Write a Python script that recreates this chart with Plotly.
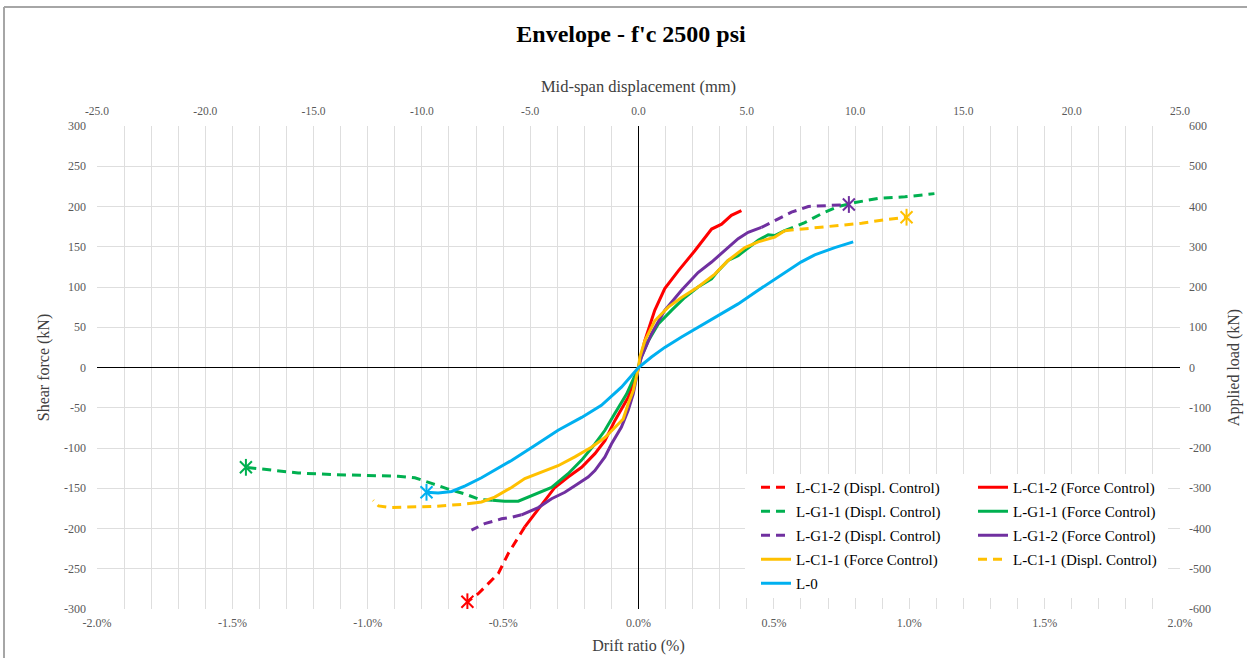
import plotly.graph_objects as go

# ---------------- data (drift ratio %, shear force kN) ----------------
c12_disp_x = [-0.42, -0.444, -0.481, -0.518, -0.555, -0.592, -0.632]
c12_disp_y = [-198, -211, -231, -256, -269, -281, -291]

c12_force_x = [-0.42, -0.383, -0.346, -0.309, -0.26, -0.21, -0.161, -0.124, -0.0875, -0.038, 0,
               0.023, 0.06, 0.097, 0.147, 0.208, 0.27, 0.307, 0.343, 0.38]
c12_force_y = [-198, -182, -165, -149, -136, -124, -107, -91, -66, -37, 0,
               33, 71, 98, 120, 145, 172, 178, 189, 195]

g11_disp_x = [-0.54, -0.586, -0.642, -0.703, -0.764, -0.826, -0.888, -1.011, -1.134, -1.257, -1.38, -1.45,
              None, 0.54, 0.614, 0.676, 0.738, 0.8, 0.885, 0.984, 1.093]
g11_disp_y = [-165, -164, -157, -151, -144, -137, -135, -134, -133, -131, -127, -124,
              None, 170, 180, 191, 200, 205, 210, 212, 216]

g11_force_x = [-0.54, -0.494, -0.444, -0.407, -0.358, -0.321, -0.26, -0.21, -0.161, -0.124, -0.0875, -0.044, 0,
               0.005, 0.036, 0.073, 0.122, 0.171, 0.22, 0.27, 0.294, 0.331, 0.368, 0.405, 0.442, 0.479, 0.503, 0.54]
g11_force_y = [-165, -166, -166, -161, -155, -149, -132, -115, -95, -78, -57, -33, 0,
               9, 33, 54, 71, 87, 100, 110, 120, 133, 139, 149, 158, 165, 164, 170]

g12_disp_x = [-0.432, -0.469, -0.506, -0.568, -0.617, None, 0.454, 0.491, 0.565, 0.627, 0.7, 0.777]
g12_disp_y = [-183, -186, -188, -194, -202, None, 174, 180, 193, 200, 201, 202.5]

g12_force_x = [-0.432, -0.37, -0.321, -0.272, -0.235, -0.186, -0.161, -0.124, -0.1, -0.063, -0.038, -0.0196, 0,
               0.011, 0.048, 0.097, 0.159, 0.22, 0.27, 0.331, 0.368, 0.405, 0.454]
g12_force_y = [-183, -174, -163, -155, -147, -136, -128, -111, -95, -74, -53, -33, 0,
               13, 42, 71, 96, 118, 131, 149, 160, 168, 174]

c11_force_x = [-0.6, -0.58, -0.531, -0.469, -0.42, -0.358, -0.297, -0.235, -0.174, -0.124, -0.0875, -0.0565, -0.038,
               -0.0196, 0, 0.005, 0.023, 0.06, 0.11, 0.159, 0.22, 0.282, 0.331, 0.393, 0.442, 0.503, 0.54]
c11_force_y = [-168, -167, -161, -149, -138, -130, -122, -111, -99, -87, -74, -64, -45,
               -29, 0, 13, 33, 58, 75, 87, 100, 116, 133, 149, 156, 162, 170]

c11_disp_x = [-0.6, -0.65, -0.75, -0.85, -0.92, -0.96, -0.98,
              None, 0.54, 0.577, 0.651, 0.738, 0.824, 0.91, 0.99]
c11_disp_y = [-168, -170, -172.5, -173.5, -174, -172, -165,
              None, 170, 171, 173.5, 176.4, 179.3, 183.5, 186.7]

l0_x = [-0.783, -0.74, -0.69, -0.64, -0.58, -0.543, -0.469, -0.383, -0.297, -0.21, -0.137, -0.063, 0,
        0.048, 0.097, 0.159, 0.22, 0.294, 0.368, 0.442, 0.516, 0.565, 0.6, 0.651, 0.725, 0.793]
l0_y = [-155, -156, -154, -147, -137, -130, -115.5, -97, -78, -62, -47, -24.5, 0,
        13, 25, 38, 50, 65, 79, 96, 112, 123, 131, 140, 149, 156]

# failure points (star markers)
fail_x = [-0.632, -1.45, 0.777, 0.99, -0.783]
fail_y = [-291, -124, 202.5, 186.7, -155]
fail_colors = ["#FF0000", "#00B050", "#7030A0", "#FFC000", "#00B0F0"]

# ticks
drift_ticks = [-2.0, -1.5, -1.0, -0.5, 0.0, 0.5, 1.0, 1.5, 2.0]
drift_labels = ["-2.0%", "-1.5%", "-1.0%", "-0.5%", "0.0%", "0.5%", "1.0%", "1.5%", "2.0%"]
disp_ticks = [-25, -20, -15, -10, -5, 0, 5, 10, 15, 20, 25]
disp_labels = ["-25.0", "-20.0", "-15.0", "-10.0", "-5.0", "0.0", "5.0", "10.0", "15.0", "20.0", "25.0"]
shear_ticks = [-300, -250, -200, -150, -100, -50, 0, 50, 100, 150, 200, 250, 300]
shear_labels = ["-300", "-250", "-200", "-150", "-100", "-50", "0", "50", "100", "150", "200", "250", "300"]
load_ticks = [-600, -500, -400, -300, -200, -100, 0, 100, 200, 300, 400, 500, 600]
load_labels = ["-600", "-500", "-400", "-300", "-200", "-100", "0", "100", "200", "300", "400", "500", "600"]

SERIF = "Liberation Serif, Times New Roman, DejaVu Serif, serif"
DASH = "9px,6px"
W = 3

series = [
    ("L-C1-2 (Displ. Control)", c12_disp_x, c12_disp_y, "#FF0000", DASH, "legend"),
    ("L-C1-2 (Force Control)", c12_force_x, c12_force_y, "#FF0000", "solid", "legend2"),
    ("L-G1-1 (Displ. Control)", g11_disp_x, g11_disp_y, "#00B050", DASH, "legend"),
    ("L-G1-1 (Force Control)", g11_force_x, g11_force_y, "#00B050", "solid", "legend2"),
    ("L-G1-2 (Displ. Control)", g12_disp_x, g12_disp_y, "#7030A0", DASH, "legend"),
    ("L-G1-2 (Force Control)", g12_force_x, g12_force_y, "#7030A0", "solid", "legend2"),
    ("L-C1-1 (Force Control)", c11_force_x, c11_force_y, "#FFC000", "solid", "legend"),
    ("L-C1-1 (Displ. Control)", c11_disp_x, c11_disp_y, "#FFC000", DASH, "legend2"),
    ("L-0", l0_x, l0_y, "#00B0F0", "solid", "legend"),
]

fig = go.Figure()
for i, (name, xs, ys, col, dash, leg) in enumerate(series):
    fig.add_trace(go.Scatter(
        x=xs, y=ys, mode="lines", name=name, legend=leg, legendgroup=f"g{i}",
        line=dict(color=col, width=W, dash=dash), connectgaps=False,
    ))

for sym in ["x-thin-open", "line-ns-open"]:
    fig.add_trace(go.Scatter(
        x=fail_x, y=fail_y, mode="markers", showlegend=False, hoverinfo="skip",
        marker=dict(symbol=sym, size=12, color=fail_colors,
                    line=dict(color=fail_colors, width=2)),
    ))

# helper trace so the secondary axes render
fig.add_trace(go.Scatter(x=[disp_ticks[0], disp_ticks[-1]], y=[load_ticks[0], load_ticks[-1]],
                         xaxis="x2", yaxis="y2", mode="markers", marker=dict(opacity=0),
                         showlegend=False, hoverinfo="skip"))

L, R, T, B = 97, 67, 126, 49
WID, HEI = 1247, 658
pw, ph = WID - L - R, HEI - T - B


def px_x(p):
    return (p - L) / pw


def px_y(p):
    return (HEI - B - p) / ph


tick_font = dict(family=SERIF, size=12, color="#595959")
title_font = dict(family=SERIF, size=16, color="#404040")
GRID = "#DEDEDE"

fig.update_layout(
    width=WID, height=HEI, autosize=False,
    margin=dict(l=L, r=R, t=T, b=B, pad=0, autoexpand=False),
    paper_bgcolor="white", plot_bgcolor="white",
    title=dict(text="Envelope - f'c 2500 psi", x=631 / WID, xanchor="center",
               y=1 - 34 / HEI, yanchor="middle", xref="container", yref="container",
               font=dict(family=SERIF, size=24, color="black", weight="bold")),
    xaxis=dict(range=[-2, 2], tickmode="array", tickvals=drift_ticks, ticktext=drift_labels,
               showgrid=True, gridcolor=GRID, gridwidth=1, automargin=False,
               minor=dict(tickmode="linear", tick0=0, dtick=0.1, showgrid=True, gridcolor=GRID, gridwidth=1),
               zeroline=True, zerolinecolor="black", zerolinewidth=1,
               showline=False, ticks="", tickfont=tick_font, ticklabelstandoff=5,
               title=dict(text="Drift ratio (%)", font=title_font, standoff=10)),
    xaxis2=dict(range=[-25, 25], overlaying="x", side="top", anchor="y", automargin=False,
                tickmode="array", tickvals=disp_ticks, ticktext=disp_labels,
                showgrid=False, zeroline=False, showline=False, ticks="",
                tickfont=dict(family=SERIF, size=11.5, color="#595959"), ticklabelstandoff=8,
                title=dict(text="Mid-span displacement (mm)", font=dict(family=SERIF, size=16.5, color="#404040"),
                           standoff=7)),
    yaxis=dict(range=[-300, 300], tickmode="array", tickvals=shear_ticks, ticktext=shear_labels,
               showgrid=True, gridcolor=GRID, gridwidth=1, automargin=False,
               zeroline=True, zerolinecolor="black", zerolinewidth=1,
               showline=False, ticks="", tickfont=tick_font, ticklabelstandoff=10,
               title=dict(text="Shear force (kN)", font=title_font, standoff=10)),
    yaxis2=dict(range=[-600, 600], overlaying="y", side="right", anchor="x", automargin=False,
                tickmode="array", tickvals=load_ticks, ticktext=load_labels,
                showgrid=False, zeroline=False, showline=False, ticks="",
                tickfont=tick_font, ticklabelstandoff=8,
                title=dict(text="Applied load (kN)", font=title_font, standoff=17)),
    legend=dict(x=px_x(756), y=px_y(471), xanchor="left", yanchor="top",
                bgcolor="rgba(0,0,0,0)", traceorder="grouped", tracegroupgap=1.5,
                font=dict(family=SERIF, size=15, color="black")),
    legend2=dict(x=px_x(973), y=px_y(471), xanchor="left", yanchor="top",
                 bgcolor="rgba(0,0,0,0)", traceorder="grouped", tracegroupgap=1.5,
                 font=dict(family=SERIF, size=15, color="black")),
    shapes=[
        dict(type="rect", xref="paper", yref="paper", x0=px_x(745), x1=px_x(1168),
             y0=px_y(598), y1=px_y(474), fillcolor="white", line=dict(width=0), layer="above"),
        dict(type="line", xref="paper", yref="paper", x0=px_x(4), x1=px_x(1247),
             y0=px_y(7), y1=px_y(7), line=dict(color="#A6A6A6", width=2)),
        dict(type="line", xref="paper", yref="paper", x0=px_x(4), x1=px_x(4),
             y0=px_y(7), y1=px_y(660), line=dict(color="#A6A6A6", width=2)),
    ],
)

fig.write_html("out.html")
